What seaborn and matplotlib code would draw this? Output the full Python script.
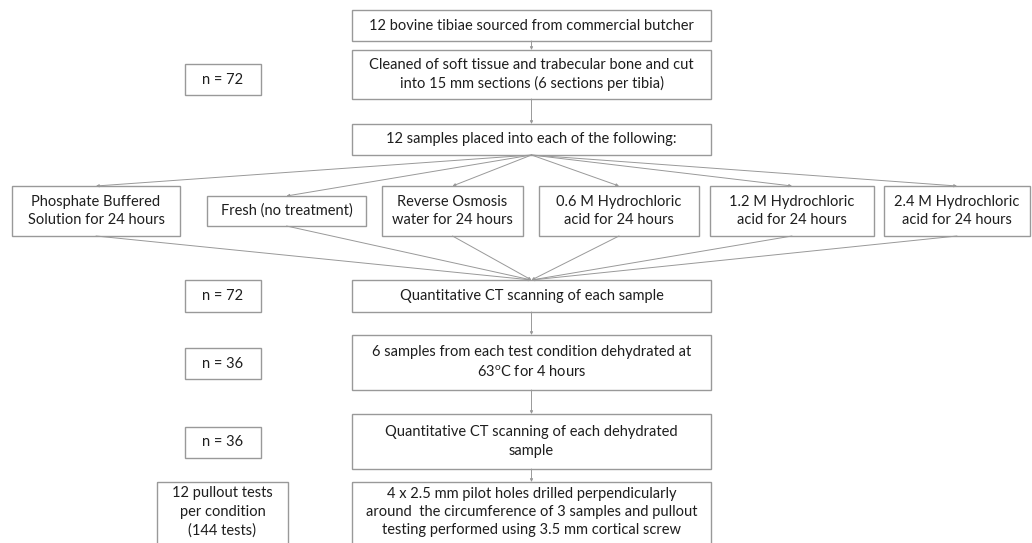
import numpy as np
import pandas as pd
import seaborn as sns
import matplotlib.pyplot as plt
from matplotlib.patches import Rectangle

sns.set_theme(style="white")
plt.rcParams['font.family'] = ['Lato', 'DejaVu Sans']
plt.rcParams['mathtext.fontset'] = 'custom'
plt.rcParams['mathtext.rm'] = 'Lato'

# main column steps
main_labels = [
    "12 bovine tibiae sourced from commercial butcher",
    "Cleaned of soft tissue and trabecular bone and cut\ninto 15 mm sections (6 sections per tibia)",
    "12 samples placed into each of the following:",
    "Quantitative CT scanning of each sample",
    "6 samples from each test condition dehydrated at\n63$^{\\mathrm{o}}$C for 4 hours",
    "Quantitative CT scanning of each dehydrated\nsample",
    "4 x 2.5 mm pilot holes drilled perpendicularly\naround  the circumference of 3 samples and pullout\ntesting performed using 3.5 mm cortical screw",
]
# treatment conditions
treat_labels = [
    "Phosphate Buffered\nSolution for 24 hours",
    "Fresh (no treatment)",
    "Reverse Osmosis\nwater for 24 hours",
    "0.6 M Hydrochloric\nacid for 24 hours",
    "1.2 M Hydrochloric\nacid for 24 hours",
    "2.4 M Hydrochloric\nacid for 24 hours",
]
# sample counts on the left
side_labels = ["n = 72", "n = 72", "n = 36", "n = 36", "12 pullout tests\nper condition\n(144 tests)"]

# layout (pixels, y down)
main_x = (352, 711)
main_y = [(10, 41), (50, 99), (124, 155), (280, 312), (335, 390), (414, 469), (482, 556)]
treat_x = [(12, 180), (207, 366), (382, 523), (539, 699), (710, 874), (884, 1030)]
treat_y = [(186, 236), (196, 226), (186, 236), (186, 236), (186, 236), (186, 236)]
side_x = [(185, 261), (185, 261), (185, 261), (185, 261), (157, 288)]
side_y = [(64, 95), (280, 312), (348, 379), (427, 458), (482, 556)]

edge = "#999999"
txt = "#1e1e1e"
fs = 10.5

fig = plt.figure(figsize=(10.32, 5.43), dpi=100)
ax = fig.add_axes([0, 0, 1, 1])
ax.set_xlim(0, 1032)
ax.set_ylim(543, 0)
ax.axis("off")


def box(x, y, label, dy=0):
    ax.add_patch(Rectangle((x[0], y[0]), x[1] - x[0], y[1] - y[0],
                           fill=False, edgecolor=edge, lw=1.0))
    ax.text((x[0] + x[1]) / 2, (y[0] + y[1]) / 2 + dy, label, ha="center", va="center",
            fontsize=fs, color=txt, linespacing=1.4)


def arrow(p0, p1):
    ax.annotate("", xy=p1, xytext=p0,
                arrowprops=dict(arrowstyle="-|>", color=edge, lw=0.7,
                                mutation_scale=4, shrinkA=0, shrinkB=0))


for i, (lab, y) in enumerate(zip(main_labels, main_y)):
    # last box runs off the bottom of the page
    box(main_x, y, lab, dy=-7 if i == 6 else 0)
for lab, x, y in zip(treat_labels, treat_x, treat_y):
    box(x, y, lab)
for i, (lab, x, y) in enumerate(zip(side_labels, side_x, side_y)):
    box(x, y, lab, dy=-7 if i == 4 else 0)

cx = (main_x[0] + main_x[1]) / 2
# vertical connectors in the main column
for a, b in [(0, 1), (1, 2), (3, 4), (4, 5), (5, 6)]:
    arrow((cx, main_y[a][1]), (cx, main_y[b][0]))

# fan out to treatments and back in to CT scanning
for x, y in zip(treat_x, treat_y):
    tx = (x[0] + x[1]) / 2
    arrow((cx, main_y[2][1]), (tx, y[0]))
    arrow((tx, y[1]), (cx, main_y[3][0]))

fig.savefig("out.png", dpi=100, facecolor="white")
